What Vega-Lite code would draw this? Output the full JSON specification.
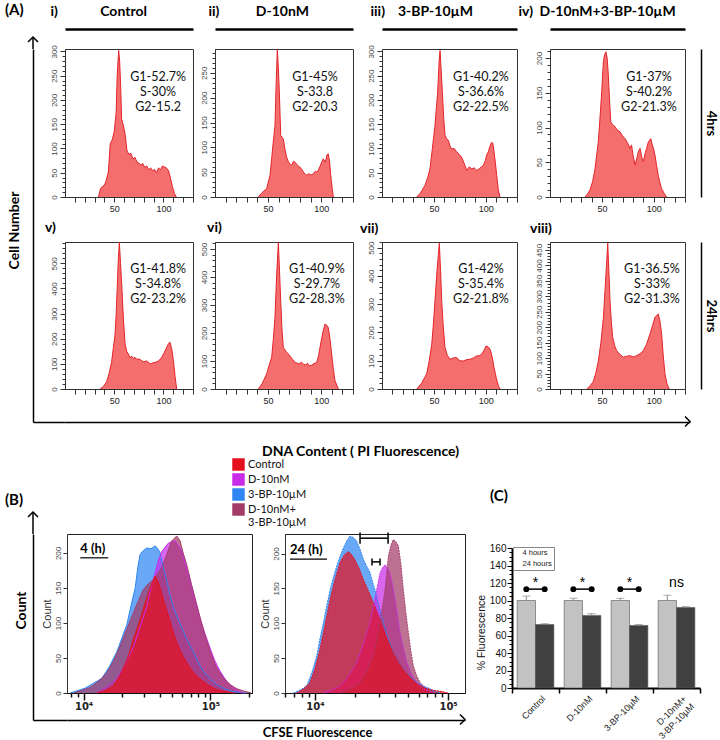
{
"$schema": "https://vega.github.io/schema/vega-lite/v6.json",
"background": "white",
"padding": {"left": 5, "top": 2, "right": 5, "bottom": 0},
"config": {"view": {"stroke": null}, "font": "Liberation Sans", "axis": {"grid": false, "labelOverlap": false, "labelFlush": false, "labelBound": false}, "title": {"color": "#000"}},
"datasets": {
"A": [
{"p":"i","x":34,"n":0},{"p":"i","x":36,"n":17},{"p":"i","x":38,"n":22},{"p":"i","x":40,"n":24},{"p":"i","x":42,"n":35},{"p":"i","x":44,"n":51},{"p":"i","x":46,"n":110},{"p":"i","x":48,"n":118},{"p":"i","x":50,"n":135},{"p":"i","x":52,"n":175},{"p":"i","x":53,"n":250},{"p":"i","x":54.5,"n":302},{"p":"i","x":55.5,"n":280},{"p":"i","x":56.5,"n":230},{"p":"i","x":57.5,"n":160},{"p":"i","x":59,"n":150},{"p":"i","x":61,"n":130},{"p":"i","x":63,"n":95},{"p":"i","x":65,"n":88},{"p":"i","x":67,"n":90},{"p":"i","x":69,"n":78},{"p":"i","x":71,"n":82},{"p":"i","x":73,"n":72},{"p":"i","x":75,"n":70},{"p":"i","x":77,"n":66},{"p":"i","x":79,"n":69},{"p":"i","x":81,"n":61},{"p":"i","x":83,"n":64},{"p":"i","x":85,"n":56},{"p":"i","x":87,"n":60},{"p":"i","x":89,"n":54},{"p":"i","x":91,"n":57},{"p":"i","x":93,"n":50},{"p":"i","x":95,"n":60},{"p":"i","x":97,"n":56},{"p":"i","x":99,"n":64},{"p":"i","x":101,"n":62},{"p":"i","x":103,"n":60},{"p":"i","x":105,"n":55},{"p":"i","x":107,"n":40},{"p":"i","x":109,"n":22},{"p":"i","x":111,"n":8},{"p":"i","x":113,"n":0},
{"p":"ii","x":40.8,"n":0},{"p":"ii","x":44,"n":8},{"p":"ii","x":48.7,"n":17},{"p":"ii","x":51.8,"n":44},{"p":"ii","x":53.5,"n":80},{"p":"ii","x":54.9,"n":111},{"p":"ii","x":56.5,"n":144},{"p":"ii","x":57.5,"n":220},{"p":"ii","x":58.7,"n":297},{"p":"ii","x":59.7,"n":260},{"p":"ii","x":60.6,"n":212},{"p":"ii","x":61.9,"n":124},{"p":"ii","x":64.3,"n":117},{"p":"ii","x":66,"n":95},{"p":"ii","x":67.5,"n":80},{"p":"ii","x":69,"n":72},{"p":"ii","x":70.5,"n":66},{"p":"ii","x":72.2,"n":64},{"p":"ii","x":74,"n":72},{"p":"ii","x":75.4,"n":70},{"p":"ii","x":77,"n":66},{"p":"ii","x":78.5,"n":62},{"p":"ii","x":80.1,"n":60},{"p":"ii","x":82,"n":55},{"p":"ii","x":84,"n":48},{"p":"ii","x":86.4,"n":44},{"p":"ii","x":88.5,"n":47},{"p":"ii","x":90.5,"n":44},{"p":"ii","x":92.6,"n":47},{"p":"ii","x":94.5,"n":52},{"p":"ii","x":96,"n":50},{"p":"ii","x":97.3,"n":54},{"p":"ii","x":99,"n":62},{"p":"ii","x":100.5,"n":70},{"p":"ii","x":102,"n":77},{"p":"ii","x":104,"n":70},{"p":"ii","x":105.5,"n":85},{"p":"ii","x":106.7,"n":87},{"p":"ii","x":108,"n":70},{"p":"ii","x":109,"n":44},{"p":"ii","x":110.5,"n":15},{"p":"ii","x":111.5,"n":0},
{"p":"iii","x":33.4,"n":0},{"p":"iii","x":37,"n":8},{"p":"iii","x":41.4,"n":24},{"p":"iii","x":44,"n":40},{"p":"iii","x":46.2,"n":58},{"p":"iii","x":48.5,"n":100},{"p":"iii","x":51,"n":147},{"p":"iii","x":53.6,"n":216},{"p":"iii","x":55,"n":280},{"p":"iii","x":55.9,"n":302},{"p":"iii","x":57,"n":260},{"p":"iii","x":58.1,"n":216},{"p":"iii","x":59.5,"n":160},{"p":"iii","x":60.7,"n":127},{"p":"iii","x":62.3,"n":120},{"p":"iii","x":63.9,"n":117},{"p":"iii","x":65.5,"n":105},{"p":"iii","x":67.1,"n":99},{"p":"iii","x":69.5,"n":100},{"p":"iii","x":71.9,"n":93},{"p":"iii","x":74.3,"n":88},{"p":"iii","x":76.7,"n":82},{"p":"iii","x":79,"n":70},{"p":"iii","x":81.6,"n":55},{"p":"iii","x":84,"n":62},{"p":"iii","x":86.4,"n":58},{"p":"iii","x":88.8,"n":60},{"p":"iii","x":91.2,"n":55},{"p":"iii","x":93.6,"n":58},{"p":"iii","x":95.6,"n":62},{"p":"iii","x":97.6,"n":65},{"p":"iii","x":99.5,"n":75},{"p":"iii","x":101,"n":88},{"p":"iii","x":102.4,"n":93},{"p":"iii","x":104,"n":105},{"p":"iii","x":105.6,"n":113},{"p":"iii","x":106.8,"n":110},{"p":"iii","x":107.9,"n":93},{"p":"iii","x":109.2,"n":70},{"p":"iii","x":110.5,"n":44},{"p":"iii","x":112,"n":15},{"p":"iii","x":113.6,"n":0},
{"p":"iv","x":33.7,"n":0},{"p":"iv","x":36,"n":4},{"p":"iv","x":38.5,"n":10},{"p":"iv","x":41,"n":22},{"p":"iv","x":43.3,"n":40},{"p":"iv","x":46.5,"n":79},{"p":"iv","x":48.2,"n":115},{"p":"iv","x":49.8,"n":151},{"p":"iv","x":51.4,"n":195},{"p":"iv","x":52.6,"n":205},{"p":"iv","x":53.9,"n":209},{"p":"iv","x":55,"n":200},{"p":"iv","x":56.2,"n":175},{"p":"iv","x":57.3,"n":140},{"p":"iv","x":58.5,"n":108},{"p":"iv","x":60.5,"n":104},{"p":"iv","x":62.6,"n":101},{"p":"iv","x":65,"n":96},{"p":"iv","x":67.4,"n":94},{"p":"iv","x":69.8,"n":88},{"p":"iv","x":72.2,"n":84},{"p":"iv","x":74.6,"n":78},{"p":"iv","x":77,"n":70},{"p":"iv","x":78.5,"n":75},{"p":"iv","x":80,"n":60},{"p":"iv","x":81.9,"n":46},{"p":"iv","x":83.5,"n":55},{"p":"iv","x":85,"n":65},{"p":"iv","x":86.7,"n":70},{"p":"iv","x":88.3,"n":58},{"p":"iv","x":89.9,"n":51},{"p":"iv","x":91.5,"n":62},{"p":"iv","x":93,"n":70},{"p":"iv","x":94.7,"n":79},{"p":"iv","x":96,"n":82},{"p":"iv","x":97,"n":84},{"p":"iv","x":98.5,"n":75},{"p":"iv","x":100,"n":68},{"p":"iv","x":101.1,"n":60},{"p":"iv","x":102.7,"n":45},{"p":"iv","x":104.3,"n":31},{"p":"iv","x":106,"n":20},{"p":"iv","x":107.5,"n":12},{"p":"iv","x":110,"n":5},{"p":"iv","x":112.3,"n":0},
{"p":"v","x":35.6,"n":0},{"p":"v","x":39,"n":10},{"p":"v","x":42.3,"n":29},{"p":"v","x":45,"n":65},{"p":"v","x":47.4,"n":109},{"p":"v","x":49,"n":160},{"p":"v","x":50.8,"n":215},{"p":"v","x":52,"n":300},{"p":"v","x":53.2,"n":418},{"p":"v","x":54.2,"n":520},{"p":"v","x":55.2,"n":584},{"p":"v","x":56.4,"n":500},{"p":"v","x":57.6,"n":418},{"p":"v","x":59.3,"n":280},{"p":"v","x":61,"n":179},{"p":"v","x":62.7,"n":150},{"p":"v","x":64.4,"n":139},{"p":"v","x":66,"n":125},{"p":"v","x":67.8,"n":130},{"p":"v","x":69.5,"n":122},{"p":"v","x":71.1,"n":126},{"p":"v","x":73,"n":118},{"p":"v","x":75,"n":120},{"p":"v","x":77.9,"n":113},{"p":"v","x":80,"n":108},{"p":"v","x":82.5,"n":112},{"p":"v","x":84.7,"n":106},{"p":"v","x":87,"n":100},{"p":"v","x":89,"n":104},{"p":"v","x":91.4,"n":106},{"p":"v","x":93.5,"n":108},{"p":"v","x":96,"n":115},{"p":"v","x":98.2,"n":126},{"p":"v","x":100.8,"n":145},{"p":"v","x":103.3,"n":166},{"p":"v","x":105,"n":180},{"p":"v","x":106.7,"n":186},{"p":"v","x":108.4,"n":160},{"p":"v","x":110.1,"n":113},{"p":"v","x":111.8,"n":50},{"p":"v","x":113.4,"n":0},
{"p":"vi","x":40.8,"n":0},{"p":"vi","x":44.5,"n":20},{"p":"vi","x":48.7,"n":54},{"p":"vi","x":51,"n":85},{"p":"vi","x":53.4,"n":113},{"p":"vi","x":55,"n":180},{"p":"vi","x":56.5,"n":256},{"p":"vi","x":58,"n":400},{"p":"vi","x":59.7,"n":524},{"p":"vi","x":60.8,"n":420},{"p":"vi","x":61.9,"n":315},{"p":"vi","x":63,"n":220},{"p":"vi","x":64.3,"n":149},{"p":"vi","x":66.7,"n":135},{"p":"vi","x":69.1,"n":125},{"p":"vi","x":71.2,"n":115},{"p":"vi","x":73.3,"n":105},{"p":"vi","x":75.4,"n":95},{"p":"vi","x":77.5,"n":92},{"p":"vi","x":79.4,"n":90},{"p":"vi","x":81.3,"n":96},{"p":"vi","x":83.2,"n":89},{"p":"vi","x":85.2,"n":86},{"p":"vi","x":87.1,"n":92},{"p":"vi","x":89,"n":83},{"p":"vi","x":91,"n":85},{"p":"vi","x":93,"n":90},{"p":"vi","x":95.8,"n":95},{"p":"vi","x":97.6,"n":120},{"p":"vi","x":99.5,"n":161},{"p":"vi","x":101.5,"n":200},{"p":"vi","x":103.6,"n":232},{"p":"vi","x":105.2,"n":228},{"p":"vi","x":106.7,"n":220},{"p":"vi","x":108.3,"n":180},{"p":"vi","x":109.9,"n":125},{"p":"vi","x":111.5,"n":70},{"p":"vi","x":113,"n":30},{"p":"vi","x":116.2,"n":0},
{"p":"vii","x":33.4,"n":0},{"p":"vii","x":38,"n":20},{"p":"vii","x":43,"n":53},{"p":"vii","x":45.5,"n":100},{"p":"vii","x":47.9,"n":158},{"p":"vii","x":49.5,"n":230},{"p":"vii","x":51,"n":311},{"p":"vii","x":53,"n":420},{"p":"vii","x":55.2,"n":516},{"p":"vii","x":56.4,"n":420},{"p":"vii","x":57.5,"n":311},{"p":"vii","x":59,"n":220},{"p":"vii","x":60.7,"n":146},{"p":"vii","x":63,"n":118},{"p":"vii","x":65.5,"n":105},{"p":"vii","x":68.7,"n":110},{"p":"vii","x":71.9,"n":111},{"p":"vii","x":75,"n":100},{"p":"vii","x":78.3,"n":99},{"p":"vii","x":81.5,"n":104},{"p":"vii","x":84.7,"n":105},{"p":"vii","x":88,"n":110},{"p":"vii","x":91.2,"n":117},{"p":"vii","x":93.6,"n":118},{"p":"vii","x":96,"n":123},{"p":"vii","x":98,"n":135},{"p":"vii","x":100.2,"n":152},{"p":"vii","x":102,"n":150},{"p":"vii","x":104,"n":141},{"p":"vii","x":106,"n":115},{"p":"vii","x":107.9,"n":76},{"p":"vii","x":110,"n":40},{"p":"vii","x":112,"n":12},{"p":"vii","x":113.6,"n":0},
{"p":"viii","x":35.3,"n":0},{"p":"viii","x":38.5,"n":10},{"p":"viii","x":41.7,"n":24},{"p":"viii","x":44,"n":50},{"p":"viii","x":46.5,"n":89},{"p":"viii","x":49,"n":150},{"p":"viii","x":51.4,"n":229},{"p":"viii","x":53.5,"n":350},{"p":"viii","x":55.6,"n":472},{"p":"viii","x":56.7,"n":380},{"p":"viii","x":57.8,"n":286},{"p":"viii","x":59,"n":220},{"p":"viii","x":60.4,"n":167},{"p":"viii","x":62.3,"n":140},{"p":"viii","x":64.2,"n":124},{"p":"viii","x":67.4,"n":112},{"p":"viii","x":70.6,"n":103},{"p":"viii","x":73.8,"n":106},{"p":"viii","x":77,"n":108},{"p":"viii","x":80.2,"n":104},{"p":"viii","x":83.4,"n":108},{"p":"viii","x":86.6,"n":114},{"p":"viii","x":89.9,"n":124},{"p":"viii","x":93,"n":145},{"p":"viii","x":96.3,"n":178},{"p":"viii","x":98.7,"n":205},{"p":"viii","x":101.1,"n":232},{"p":"viii","x":102.7,"n":238},{"p":"viii","x":104.3,"n":243},{"p":"viii","x":105.9,"n":220},{"p":"viii","x":107.5,"n":178},{"p":"viii","x":109,"n":110},{"p":"viii","x":110.7,"n":49},{"p":"viii","x":112.8,"n":15},{"p":"viii","x":114.9,"n":0}
],
"B": [
{"t":"4h","s":"3-BP-10µM","x":7850,"n":0},{"t":"4h","s":"3-BP-10µM","x":10300,"n":7},{"t":"4h","s":"3-BP-10µM","x":12000,"n":14},{"t":"4h","s":"3-BP-10µM","x":13960,"n":21},{"t":"4h","s":"3-BP-10µM","x":16000,"n":38},{"t":"4h","s":"3-BP-10µM","x":18300,"n":59},{"t":"4h","s":"3-BP-10µM","x":20000,"n":78},{"t":"4h","s":"3-BP-10µM","x":21970,"n":98},{"t":"4h","s":"3-BP-10µM","x":23700,"n":125},{"t":"4h","s":"3-BP-10µM","x":25540,"n":150},{"t":"4h","s":"3-BP-10µM","x":26800,"n":180},{"t":"4h","s":"3-BP-10µM","x":27940,"n":198},{"t":"4h","s":"3-BP-10µM","x":29500,"n":203},{"t":"4h","s":"3-BP-10µM","x":31530,"n":207},{"t":"4h","s":"3-BP-10µM","x":34000,"n":206},{"t":"4h","s":"3-BP-10µM","x":36700,"n":210},{"t":"4h","s":"3-BP-10µM","x":38500,"n":206},{"t":"4h","s":"3-BP-10µM","x":40180,"n":200},{"t":"4h","s":"3-BP-10µM","x":42500,"n":180},{"t":"4h","s":"3-BP-10µM","x":45350,"n":160},{"t":"4h","s":"3-BP-10µM","x":48000,"n":140},{"t":"4h","s":"3-BP-10µM","x":51200,"n":122},{"t":"4h","s":"3-BP-10µM","x":56000,"n":104},{"t":"4h","s":"3-BP-10µM","x":61300,"n":88},{"t":"4h","s":"3-BP-10µM","x":67000,"n":72},{"t":"4h","s":"3-BP-10µM","x":73500,"n":59},{"t":"4h","s":"3-BP-10µM","x":80000,"n":44},{"t":"4h","s":"3-BP-10µM","x":88100,"n":31},{"t":"4h","s":"3-BP-10µM","x":100000,"n":20},{"t":"4h","s":"3-BP-10µM","x":112000,"n":12},{"t":"4h","s":"3-BP-10µM","x":130000,"n":6},{"t":"4h","s":"3-BP-10µM","x":151800,"n":2},{"t":"4h","s":"3-BP-10µM","x":190000,"n":0},
{"t":"4h","s":"D-10nM","x":12750,"n":0},{"t":"4h","s":"D-10nM","x":15000,"n":8},{"t":"4h","s":"D-10nM","x":18300,"n":20},{"t":"4h","s":"D-10nM","x":21200,"n":40},{"t":"4h","s":"D-10nM","x":24800,"n":67},{"t":"4h","s":"D-10nM","x":28000,"n":95},{"t":"4h","s":"D-10nM","x":31530,"n":124},{"t":"4h","s":"D-10nM","x":34000,"n":150},{"t":"4h","s":"D-10nM","x":36700,"n":172},{"t":"4h","s":"D-10nM","x":39000,"n":190},{"t":"4h","s":"D-10nM","x":41400,"n":202},{"t":"4h","s":"D-10nM","x":43800,"n":208},{"t":"4h","s":"D-10nM","x":46700,"n":214},{"t":"4h","s":"D-10nM","x":49600,"n":216},{"t":"4h","s":"D-10nM","x":52700,"n":217},{"t":"4h","s":"D-10nM","x":56000,"n":210},{"t":"4h","s":"D-10nM","x":59600,"n":202},{"t":"4h","s":"D-10nM","x":64000,"n":182},{"t":"4h","s":"D-10nM","x":69200,"n":160},{"t":"4h","s":"D-10nM","x":75500,"n":133},{"t":"4h","s":"D-10nM","x":83000,"n":107},{"t":"4h","s":"D-10nM","x":90500,"n":85},{"t":"4h","s":"D-10nM","x":99500,"n":64},{"t":"4h","s":"D-10nM","x":108500,"n":46},{"t":"4h","s":"D-10nM","x":119500,"n":31},{"t":"4h","s":"D-10nM","x":134000,"n":17},{"t":"4h","s":"D-10nM","x":151800,"n":7},{"t":"4h","s":"D-10nM","x":170000,"n":2},{"t":"4h","s":"D-10nM","x":182000,"n":0},
{"t":"4h","s":"D-10nM+3-BP-10µM","x":8340,"n":0},{"t":"4h","s":"D-10nM+3-BP-10µM","x":9800,"n":4},{"t":"4h","s":"D-10nM+3-BP-10µM","x":11300,"n":8},{"t":"4h","s":"D-10nM+3-BP-10µM","x":13200,"n":17},{"t":"4h","s":"D-10nM+3-BP-10µM","x":15300,"n":29},{"t":"4h","s":"D-10nM+3-BP-10µM","x":17300,"n":46},{"t":"4h","s":"D-10nM+3-BP-10µM","x":19450,"n":67},{"t":"4h","s":"D-10nM+3-BP-10µM","x":22000,"n":92},{"t":"4h","s":"D-10nM+3-BP-10µM","x":24800,"n":115},{"t":"4h","s":"D-10nM+3-BP-10µM","x":27100,"n":132},{"t":"4h","s":"D-10nM+3-BP-10µM","x":29700,"n":148},{"t":"4h","s":"D-10nM+3-BP-10µM","x":32500,"n":156},{"t":"4h","s":"D-10nM+3-BP-10µM","x":35600,"n":162},{"t":"4h","s":"D-10nM+3-BP-10µM","x":38300,"n":170},{"t":"4h","s":"D-10nM+3-BP-10µM","x":41400,"n":179},{"t":"4h","s":"D-10nM+3-BP-10µM","x":43300,"n":188},{"t":"4h","s":"D-10nM+3-BP-10µM","x":45350,"n":198},{"t":"4h","s":"D-10nM+3-BP-10µM","x":47500,"n":208},{"t":"4h","s":"D-10nM+3-BP-10µM","x":49650,"n":217},{"t":"4h","s":"D-10nM+3-BP-10µM","x":52000,"n":221},{"t":"4h","s":"D-10nM+3-BP-10µM","x":54300,"n":224},{"t":"4h","s":"D-10nM+3-BP-10µM","x":55900,"n":221},{"t":"4h","s":"D-10nM+3-BP-10µM","x":57700,"n":217},{"t":"4h","s":"D-10nM+3-BP-10µM","x":61000,"n":200},{"t":"4h","s":"D-10nM+3-BP-10µM","x":65100,"n":183},{"t":"4h","s":"D-10nM+3-BP-10µM","x":71000,"n":155},{"t":"4h","s":"D-10nM+3-BP-10µM","x":78200,"n":126},{"t":"4h","s":"D-10nM+3-BP-10µM","x":85000,"n":100},{"t":"4h","s":"D-10nM+3-BP-10µM","x":93700,"n":74},{"t":"4h","s":"D-10nM+3-BP-10µM","x":102000,"n":54},{"t":"4h","s":"D-10nM+3-BP-10µM","x":112000,"n":36},{"t":"4h","s":"D-10nM+3-BP-10µM","x":126000,"n":22},{"t":"4h","s":"D-10nM+3-BP-10µM","x":143000,"n":12},{"t":"4h","s":"D-10nM+3-BP-10µM","x":162000,"n":6},{"t":"4h","s":"D-10nM+3-BP-10µM","x":182000,"n":3},{"t":"4h","s":"D-10nM+3-BP-10µM","x":210000,"n":0},
{"t":"4h","s":"Control","x":12750,"n":0},{"t":"4h","s":"Control","x":15000,"n":4},{"t":"4h","s":"Control","x":17200,"n":10},{"t":"4h","s":"Control","x":19800,"n":28},{"t":"4h","s":"Control","x":22600,"n":53},{"t":"4h","s":"Control","x":25000,"n":80},{"t":"4h","s":"Control","x":27940,"n":105},{"t":"4h","s":"Control","x":30500,"n":128},{"t":"4h","s":"Control","x":33500,"n":150},{"t":"4h","s":"Control","x":36700,"n":167},{"t":"4h","s":"Control","x":38400,"n":160},{"t":"4h","s":"Control","x":40180,"n":150},{"t":"4h","s":"Control","x":43200,"n":130},{"t":"4h","s":"Control","x":46700,"n":110},{"t":"4h","s":"Control","x":50300,"n":90},{"t":"4h","s":"Control","x":54300,"n":72},{"t":"4h","s":"Control","x":59500,"n":56},{"t":"4h","s":"Control","x":65100,"n":43},{"t":"4h","s":"Control","x":73000,"n":30},{"t":"4h","s":"Control","x":83000,"n":20},{"t":"4h","s":"Control","x":96000,"n":11},{"t":"4h","s":"Control","x":112000,"n":5},{"t":"4h","s":"Control","x":130000,"n":2},{"t":"4h","s":"Control","x":151800,"n":0},
{"t":"24h","s":"3-BP-10µM","x":6870,"n":0},{"t":"24h","s":"3-BP-10µM","x":7700,"n":4},{"t":"24h","s":"3-BP-10µM","x":8660,"n":10},{"t":"24h","s":"3-BP-10µM","x":9500,"n":30},{"t":"24h","s":"3-BP-10µM","x":10300,"n":53},{"t":"24h","s":"3-BP-10µM","x":10900,"n":78},{"t":"24h","s":"3-BP-10µM","x":11570,"n":101},{"t":"24h","s":"3-BP-10µM","x":12250,"n":125},{"t":"24h","s":"3-BP-10µM","x":12980,"n":148},{"t":"24h","s":"3-BP-10µM","x":13750,"n":166},{"t":"24h","s":"3-BP-10µM","x":14560,"n":182},{"t":"24h","s":"3-BP-10µM","x":15430,"n":196},{"t":"24h","s":"3-BP-10µM","x":16330,"n":208},{"t":"24h","s":"3-BP-10µM","x":17300,"n":218},{"t":"24h","s":"3-BP-10µM","x":18320,"n":225},{"t":"24h","s":"3-BP-10µM","x":19400,"n":223},{"t":"24h","s":"3-BP-10µM","x":20550,"n":218},{"t":"24h","s":"3-BP-10µM","x":21800,"n":206},{"t":"24h","s":"3-BP-10µM","x":23060,"n":192},{"t":"24h","s":"3-BP-10µM","x":24400,"n":182},{"t":"24h","s":"3-BP-10µM","x":25900,"n":173},{"t":"24h","s":"3-BP-10µM","x":27000,"n":160},{"t":"24h","s":"3-BP-10µM","x":28250,"n":148},{"t":"24h","s":"3-BP-10µM","x":30300,"n":125},{"t":"24h","s":"3-BP-10µM","x":32650,"n":101},{"t":"24h","s":"3-BP-10µM","x":35500,"n":78},{"t":"24h","s":"3-BP-10µM","x":38800,"n":58},{"t":"24h","s":"3-BP-10µM","x":42300,"n":45},{"t":"24h","s":"3-BP-10µM","x":46100,"n":34},{"t":"24h","s":"3-BP-10µM","x":52000,"n":24},{"t":"24h","s":"3-BP-10µM","x":58200,"n":15},{"t":"24h","s":"3-BP-10µM","x":65000,"n":10},{"t":"24h","s":"3-BP-10µM","x":73300,"n":6},{"t":"24h","s":"3-BP-10µM","x":80000,"n":2},{"t":"24h","s":"3-BP-10µM","x":87000,"n":0},
{"t":"24h","s":"D-10nM","x":11570,"n":0},{"t":"24h","s":"D-10nM","x":13300,"n":4},{"t":"24h","s":"D-10nM","x":15420,"n":10},{"t":"24h","s":"D-10nM","x":17800,"n":24},{"t":"24h","s":"D-10nM","x":20550,"n":43},{"t":"24h","s":"D-10nM","x":23000,"n":70},{"t":"24h","s":"D-10nM","x":25900,"n":101},{"t":"24h","s":"D-10nM","x":27500,"n":125},{"t":"24h","s":"D-10nM","x":29100,"n":148},{"t":"24h","s":"D-10nM","x":30800,"n":172},{"t":"24h","s":"D-10nM","x":32200,"n":180},{"t":"24h","s":"D-10nM","x":33600,"n":184},{"t":"24h","s":"D-10nM","x":35000,"n":180},{"t":"24h","s":"D-10nM","x":36600,"n":172},{"t":"24h","s":"D-10nM","x":38200,"n":155},{"t":"24h","s":"D-10nM","x":40000,"n":134},{"t":"24h","s":"D-10nM","x":41800,"n":110},{"t":"24h","s":"D-10nM","x":43600,"n":86},{"t":"24h","s":"D-10nM","x":46200,"n":64},{"t":"24h","s":"D-10nM","x":48900,"n":44},{"t":"24h","s":"D-10nM","x":53000,"n":27},{"t":"24h","s":"D-10nM","x":58200,"n":15},{"t":"24h","s":"D-10nM","x":65000,"n":6},{"t":"24h","s":"D-10nM","x":73300,"n":2},{"t":"24h","s":"D-10nM","x":80000,"n":0},
{"t":"24h","s":"D-10nM+3-BP-10µM","x":15420,"n":0},{"t":"24h","s":"D-10nM+3-BP-10µM","x":18500,"n":6},{"t":"24h","s":"D-10nM+3-BP-10µM","x":21800,"n":15},{"t":"24h","s":"D-10nM+3-BP-10µM","x":24500,"n":32},{"t":"24h","s":"D-10nM+3-BP-10µM","x":27400,"n":53},{"t":"24h","s":"D-10nM+3-BP-10µM","x":29100,"n":75},{"t":"24h","s":"D-10nM+3-BP-10µM","x":30800,"n":101},{"t":"24h","s":"D-10nM+3-BP-10µM","x":32200,"n":125},{"t":"24h","s":"D-10nM+3-BP-10µM","x":33600,"n":148},{"t":"24h","s":"D-10nM+3-BP-10µM","x":34600,"n":172},{"t":"24h","s":"D-10nM+3-BP-10µM","x":35600,"n":196},{"t":"24h","s":"D-10nM+3-BP-10µM","x":37200,"n":212},{"t":"24h","s":"D-10nM+3-BP-10µM","x":38800,"n":220},{"t":"24h","s":"D-10nM+3-BP-10µM","x":40500,"n":217},{"t":"24h","s":"D-10nM+3-BP-10µM","x":42300,"n":211},{"t":"24h","s":"D-10nM+3-BP-10µM","x":44200,"n":185},{"t":"24h","s":"D-10nM+3-BP-10µM","x":46100,"n":148},{"t":"24h","s":"D-10nM+3-BP-10µM","x":48200,"n":115},{"t":"24h","s":"D-10nM+3-BP-10µM","x":50300,"n":86},{"t":"24h","s":"D-10nM+3-BP-10µM","x":52500,"n":60},{"t":"24h","s":"D-10nM+3-BP-10µM","x":54800,"n":39},{"t":"24h","s":"D-10nM+3-BP-10µM","x":58000,"n":25},{"t":"24h","s":"D-10nM+3-BP-10µM","x":61500,"n":15},{"t":"24h","s":"D-10nM+3-BP-10µM","x":67000,"n":8},{"t":"24h","s":"D-10nM+3-BP-10µM","x":73300,"n":3},{"t":"24h","s":"D-10nM+3-BP-10µM","x":80000,"n":0},
{"t":"24h","s":"Control","x":7280,"n":0},{"t":"24h","s":"Control","x":8200,"n":6},{"t":"24h","s":"Control","x":9170,"n":15},{"t":"24h","s":"Control","x":10000,"n":35},{"t":"24h","s":"Control","x":10900,"n":63},{"t":"24h","s":"Control","x":11900,"n":98},{"t":"24h","s":"Control","x":12980,"n":134},{"t":"24h","s":"Control","x":14100,"n":162},{"t":"24h","s":"Control","x":15420,"n":187},{"t":"24h","s":"Control","x":16600,"n":198},{"t":"24h","s":"Control","x":17800,"n":203},{"t":"24h","s":"Control","x":18900,"n":198},{"t":"24h","s":"Control","x":19980,"n":191},{"t":"24h","s":"Control","x":21500,"n":178},{"t":"24h","s":"Control","x":23060,"n":163},{"t":"24h","s":"Control","x":25100,"n":147},{"t":"24h","s":"Control","x":27400,"n":130},{"t":"24h","s":"Control","x":29900,"n":111},{"t":"24h","s":"Control","x":32650,"n":91},{"t":"24h","s":"Control","x":35600,"n":73},{"t":"24h","s":"Control","x":38800,"n":58},{"t":"24h","s":"Control","x":42300,"n":45},{"t":"24h","s":"Control","x":46100,"n":34},{"t":"24h","s":"Control","x":52000,"n":22},{"t":"24h","s":"Control","x":58200,"n":13},{"t":"24h","s":"Control","x":66000,"n":7},{"t":"24h","s":"Control","x":77500,"n":4},{"t":"24h","s":"Control","x":90000,"n":2},{"t":"24h","s":"Control","x":100000,"n":0}
],
"C": [
{"g":"Control","t":"4 hours","v":100,"hi":105},{"g":"Control","t":"24 hours","v":72.5,"hi":73.5},
{"g":"D-10nM","t":"4 hours","v":100,"hi":102.5},{"g":"D-10nM","t":"24 hours","v":83,"hi":85},
{"g":"3-BP-10µM","t":"4 hours","v":100,"hi":102.5},{"g":"3-BP-10µM","t":"24 hours","v":71.5,"hi":72.5},
{"g":"D-10nM+3-BP-10µM","t":"4 hours","v":100,"hi":106},{"g":"D-10nM+3-BP-10µM","t":"24 hours","v":92,"hi":93}
]
},
"spacing": 485,
"bounds": "flush",
"vconcat": [
{
"hconcat": [
{
"width": 32, "height": 373,
"title": {"text": "(A)", "anchor": "start", "frame": "group", "dx": -28, "offset": 16, "font": "Lato", "fontSize": 15, "fontWeight": "bold"},
"data": {"values": [{}]},
"resolve": {"axis": {"x": "independent", "y": "independent"}},
"layer": [
{"mark": {"type": "rule", "color": "#000", "strokeWidth": 1.5},
"encoding": {
"x": {"datum": 0, "type": "quantitative", "scale": {"domain": [0, 32], "nice": false}, "axis": {"orient": "bottom", "domain": true, "domainColor": "#000", "domainWidth": 1.5, "ticks": false, "labels": false, "title": null}},
"y": {"datum": 373, "type": "quantitative", "scale": {"domain": [0, 373], "nice": false}, "axis": {"orient": "left", "domain": true, "domainColor": "#000", "domainWidth": 1.5, "ticks": false, "labels": false, "title": "Cell Number", "titleFont": "Lato", "titleFontSize": 14, "titleFontWeight": "bold", "titleColor": "#000", "titlePadding": 12, "titleY": 181}},
"y2": {"datum": 385}}},
{"mark": {"type": "point", "shape": "M-1,1L0,0L1,1", "size": 100, "filled": false, "color": "#000", "strokeWidth": 1.5, "opacity": 1},
"encoding": {"x": {"datum": 0, "type": "quantitative", "axis": null}, "y": {"datum": 385, "type": "quantitative", "axis": null}}}
]
},
{
"spacing": 372, "bounds": "flush",
"vconcat": [
{
"spacing": 193, "bounds": "flush",
"vconcat": [
{
"spacing": 22, "bounds": "flush",
"hconcat": [
{
"width": 128, "height": 148,
"view": {"stroke": "#333", "strokeWidth": 1},
"resolve": {"axis": {"x": "independent", "y": "independent"}},
"layer": [
{"data": {"name": "A"}, "transform": [{"filter": "datum.p == 'i'"}],
"mark": {"type": "area", "color": "#f56e6e", "opacity": 1, "line": {"color": "#e3242b", "strokeWidth": 1}},
"encoding": {
"x": {"field": "x", "type": "quantitative", "scale": {"domain": [0, 130], "nice": false}, "axis": {"values": [10,20,30,40,50,60,70,80,90,100,110,120,130], "labelExpr": "datum.value == 50 || datum.value == 100 ? datum.label : ''", "title": null, "tickSize": 5, "tickColor": "#333", "domainColor": "#333", "labelFont": "Liberation Sans", "labelFontSize": 9, "labelColor": "#222", "labelPadding": 2}},
"y": {"field": "n", "type": "quantitative", "scale": {"domain": [0, 305], "nice": false}, "axis": {"values": [0,10,20,30,40,50,60,70,80,90,100,110,120,130,140,150,160,170,180,190,200,210,220,230,240,250,260,270,280,290,300], "labelExpr": "datum.value % 50 == 0 ? datum.label : ''", "title": null, "tickSize": {"condition": {"test": "datum.value % 50 == 0", "value": 5}, "value": 3}, "tickColor": "#333", "domainColor": "#333", "labelAngle": -90, "labelAlign": "center", "labelBaseline": "bottom", "labelFont": "Liberation Sans", "labelFontSize": 8, "labelColor": "#444", "labelPadding": 2}}}},
{"data": {"values": [{}]},
"mark": {"type": "text", "font": "Lato", "fontSize": 12.5, "lineHeight": 15, "align": "center", "baseline": "middle", "color": "#111"},
"encoding": {
"x": {"datum": 94.5, "type": "quantitative", "axis": {"orient": "top", "offset": 20, "values": [59], "labelExpr": "'Control'", "ticks": false, "tickSize": 0, "domain": true, "domainColor": "#000", "domainWidth": 2.5, "labelFont": "Lato", "labelFontSize": 14, "labelFontWeight": "bold", "labelColor": "#000", "labelPadding": 11, "title": "i)", "titleFont": "Lato", "titleFontSize": 14, "titleFontWeight": "bold", "titleColor": "#000", "titleX": -15, "titleY": -11, "titleAlign": "left", "titleBaseline": "bottom"}},
"y": {"datum": 247, "type": "quantitative", "axis": null},
"text": {"value": ["G1-52.7%", "S-30%", "G2-15.2"]}}}
]
},
{
"spacing": 29, "bounds": "flush",
"hconcat": [
{
"width": 138, "height": 148,
"view": {"stroke": "#333", "strokeWidth": 1},
"resolve": {"axis": {"x": "independent", "y": "independent"}},
"layer": [
{"data": {"name": "A"}, "transform": [{"filter": "datum.p == 'ii'"}],
"mark": {"type": "area", "color": "#f56e6e", "opacity": 1, "line": {"color": "#e3242b", "strokeWidth": 1}},
"encoding": {
"x": {"field": "x", "type": "quantitative", "scale": {"domain": [0, 130], "nice": false}, "axis": {"values": [10,20,30,40,50,60,70,80,90,100,110,120,130], "labelExpr": "datum.value == 50 || datum.value == 100 ? datum.label : ''", "title": null, "tickSize": 5, "tickColor": "#333", "domainColor": "#333", "labelFont": "Liberation Sans", "labelFontSize": 9, "labelColor": "#222", "labelPadding": 2}},
"y": {"field": "n", "type": "quantitative", "scale": {"domain": [0, 298], "nice": false}, "axis": {"values": [0,10,20,30,40,50,60,70,80,90,100,110,120,130,140,150,160,170,180,190,200,210,220,230,240,250,260,270,280,290], "labelExpr": "datum.value % 50 == 0 ? datum.label : ''", "title": null, "tickSize": {"condition": {"test": "datum.value % 50 == 0", "value": 5}, "value": 3}, "tickColor": "#333", "domainColor": "#333", "labelAngle": -90, "labelAlign": "center", "labelBaseline": "bottom", "labelFont": "Liberation Sans", "labelFontSize": 8, "labelColor": "#444", "labelPadding": 2}}}},
{"data": {"values": [{}]},
"mark": {"type": "text", "font": "Lato", "fontSize": 12.5, "lineHeight": 15, "align": "center", "baseline": "middle", "color": "#111"},
"encoding": {
"x": {"datum": 94.2, "type": "quantitative", "axis": {"orient": "top", "offset": 20, "values": [63], "labelExpr": "'D-10nM'", "ticks": false, "tickSize": 0, "domain": true, "domainColor": "#000", "domainWidth": 2.5, "labelFont": "Lato", "labelFontSize": 14, "labelFontWeight": "bold", "labelColor": "#000", "labelPadding": 11, "title": "ii)", "titleFont": "Lato", "titleFontSize": 14, "titleFontWeight": "bold", "titleColor": "#000", "titleX": -7, "titleY": -11, "titleAlign": "left", "titleBaseline": "bottom"}},
"y": {"datum": 241, "type": "quantitative", "axis": null},
"text": {"value": ["G1-45%", "S-33.8", "G2-20.3"]}}}
]
},
{
"spacing": 33, "bounds": "flush",
"hconcat": [
{
"width": 135, "height": 148,
"view": {"stroke": "#333", "strokeWidth": 1},
"resolve": {"axis": {"x": "independent", "y": "independent"}},
"layer": [
{"data": {"name": "A"}, "transform": [{"filter": "datum.p == 'iii'"}],
"mark": {"type": "area", "color": "#f56e6e", "opacity": 1, "line": {"color": "#e3242b", "strokeWidth": 1}},
"encoding": {
"x": {"field": "x", "type": "quantitative", "scale": {"domain": [0, 130], "nice": false}, "axis": {"values": [10,20,30,40,50,60,70,80,90,100,110,120,130], "labelExpr": "datum.value == 50 || datum.value == 100 ? datum.label : ''", "title": null, "tickSize": 5, "tickColor": "#333", "domainColor": "#333", "labelFont": "Liberation Sans", "labelFontSize": 9, "labelColor": "#222", "labelPadding": 2}},
"y": {"field": "n", "type": "quantitative", "scale": {"domain": [0, 305], "nice": false}, "axis": {"values": [0,10,20,30,40,50,60,70,80,90,100,110,120,130,140,150,160,170,180,190,200,210,220,230,240,250,260,270,280,290,300], "labelExpr": "datum.value % 50 == 0 ? datum.label : ''", "title": null, "tickSize": {"condition": {"test": "datum.value % 50 == 0", "value": 5}, "value": 3}, "tickColor": "#333", "domainColor": "#333", "labelAngle": -90, "labelAlign": "center", "labelBaseline": "bottom", "labelFont": "Liberation Sans", "labelFontSize": 8, "labelColor": "#444", "labelPadding": 2}}}},
{"data": {"values": [{}]},
"mark": {"type": "text", "font": "Lato", "fontSize": 12.5, "lineHeight": 15, "align": "center", "baseline": "middle", "color": "#111"},
"encoding": {
"x": {"datum": 95.3, "type": "quantitative", "axis": {"orient": "top", "offset": 20, "values": [51], "labelExpr": "'3-BP-10µM'", "ticks": false, "tickSize": 0, "domain": true, "domainColor": "#000", "domainWidth": 2.5, "labelFont": "Lato", "labelFontSize": 14, "labelFontWeight": "bold", "labelColor": "#000", "labelPadding": 11, "title": "iii)", "titleFont": "Lato", "titleFontSize": 14, "titleFontWeight": "bold", "titleColor": "#000", "titleX": -12, "titleY": -11, "titleAlign": "left", "titleBaseline": "bottom"}},
"y": {"datum": 247, "type": "quantitative", "axis": null},
"text": {"value": ["G1-40.2%", "S-36.6%", "G2-22.5%"]}}}
]
},
{
"spacing": 15, "bounds": "flush",
"hconcat": [
{
"width": 135, "height": 148,
"view": {"stroke": "#333", "strokeWidth": 1},
"resolve": {"axis": {"x": "independent", "y": "independent"}},
"layer": [
{"data": {"name": "A"}, "transform": [{"filter": "datum.p == 'iv'"}],
"mark": {"type": "area", "color": "#f56e6e", "opacity": 1, "line": {"color": "#e3242b", "strokeWidth": 1}},
"encoding": {
"x": {"field": "x", "type": "quantitative", "scale": {"domain": [0, 130], "nice": false}, "axis": {"values": [10,20,30,40,50,60,70,80,90,100,110,120,130], "labelExpr": "datum.value == 50 || datum.value == 100 ? datum.label : ''", "title": null, "tickSize": 5, "tickColor": "#333", "domainColor": "#333", "labelFont": "Liberation Sans", "labelFontSize": 9, "labelColor": "#222", "labelPadding": 2}},
"y": {"field": "n", "type": "quantitative", "scale": {"domain": [0, 213], "nice": false}, "axis": {"values": [0,10,20,30,40,50,60,70,80,90,100,110,120,130,140,150,160,170,180,190,200,210], "labelExpr": "datum.value % 50 == 0 ? datum.label : ''", "title": null, "tickSize": {"condition": {"test": "datum.value % 50 == 0", "value": 5}, "value": 3}, "tickColor": "#333", "domainColor": "#333", "labelAngle": -90, "labelAlign": "center", "labelBaseline": "bottom", "labelFont": "Liberation Sans", "labelFontSize": 8, "labelColor": "#444", "labelPadding": 2}}}},
{"data": {"values": [{}]},
"mark": {"type": "text", "font": "Lato", "fontSize": 12.5, "lineHeight": 15, "align": "center", "baseline": "middle", "color": "#111"},
"encoding": {
"x": {"datum": 95.3, "type": "quantitative", "axis": {"orient": "top", "offset": 20, "values": [55], "labelExpr": "'D-10nM+3-BP-10µM'", "ticks": false, "tickSize": 0, "domain": true, "domainColor": "#000", "domainWidth": 2.5, "labelFont": "Lato", "labelFontSize": 14, "labelFontWeight": "bold", "labelColor": "#000", "labelPadding": 11, "title": "iv)", "titleFont": "Lato", "titleFontSize": 14, "titleFontWeight": "bold", "titleColor": "#000", "titleX": -32, "titleY": -11, "titleAlign": "left", "titleBaseline": "bottom"}},
"y": {"datum": 173, "type": "quantitative", "axis": null},
"text": {"value": ["G1-37%", "S-40.2%", "G2-21.3%"]}}}
]
},
{
"width": 1, "height": 148,
"data": {"values": [{}]},
"mark": {"type": "point", "opacity": 0},
"encoding": {"y": {"datum": 0, "type": "quantitative", "scale": {"domain": [0, 1], "nice": false}, "axis": {"orient": "right", "domain": true, "domainColor": "#000", "domainWidth": 1.5, "ticks": false, "labels": false, "title": "4hrs", "titleAngle": 90, "titleFont": "Lato", "titleFontSize": 13, "titleFontWeight": "bold", "titleColor": "#000", "titlePadding": 2}}}
}
]
}
]
}
]
}
]
},
{
"spacing": 22, "bounds": "flush",
"hconcat": [
{
"width": 128, "height": 147,
"view": {"stroke": "#333", "strokeWidth": 1},
"title": {"text": "v)", "anchor": "start", "frame": "group", "dx": -20, "offset": 5, "font": "Lato", "fontSize": 14, "fontWeight": "bold"},
"resolve": {"axis": {"x": "independent", "y": "independent"}},
"layer": [
{"data": {"name": "A"}, "transform": [{"filter": "datum.p == 'v'"}],
"mark": {"type": "area", "color": "#f56e6e", "opacity": 1, "line": {"color": "#e3242b", "strokeWidth": 1}},
"encoding": {
"x": {"field": "x", "type": "quantitative", "scale": {"domain": [0, 130], "nice": false}, "axis": {"values": [10,20,30,40,50,60,70,80,90,100,110,120,130], "labelExpr": "datum.value == 50 || datum.value == 100 ? datum.label : ''", "title": null, "tickSize": 5, "tickColor": "#333", "domainColor": "#333", "labelFont": "Liberation Sans", "labelFontSize": 9, "labelColor": "#222", "labelPadding": 2}},
"y": {"field": "n", "type": "quantitative", "scale": {"domain": [0, 585], "nice": false}, "axis": {"values": [0,20,40,60,80,100,120,140,160,180,200,220,240,260,280,300,320,340,360,380,400,420,440,460,480,500,520,540,560,580], "labelExpr": "datum.value % 100 == 0 ? datum.label : ''", "title": null, "tickSize": {"condition": {"test": "datum.value % 100 == 0", "value": 5}, "value": 3}, "tickColor": "#333", "domainColor": "#333", "labelAngle": -90, "labelAlign": "center", "labelBaseline": "bottom", "labelFont": "Liberation Sans", "labelFontSize": 8, "labelColor": "#444", "labelPadding": 2}}}},
{"data": {"values": [{}]},
"mark": {"type": "text", "font": "Lato", "fontSize": 12.5, "lineHeight": 15, "align": "center", "baseline": "middle", "color": "#111"},
"encoding": {
"x": {"datum": 94.5, "type": "quantitative", "axis": null},
"y": {"datum": 478, "type": "quantitative", "axis": null},
"text": {"value": ["G1-41.8%", "S-34.8%", "G2-23.2%"]}}}
]
},
{
"spacing": 29, "bounds": "flush",
"hconcat": [
{
"width": 138, "height": 147,
"view": {"stroke": "#333", "strokeWidth": 1},
"title": {"text": "vi)", "anchor": "start", "frame": "group", "dx": -8, "offset": 5, "font": "Lato", "fontSize": 14, "fontWeight": "bold"},
"resolve": {"axis": {"x": "independent", "y": "independent"}},
"layer": [
{"data": {"name": "A"}, "transform": [{"filter": "datum.p == 'vi'"}],
"mark": {"type": "area", "color": "#f56e6e", "opacity": 1, "line": {"color": "#e3242b", "strokeWidth": 1}},
"encoding": {
"x": {"field": "x", "type": "quantitative", "scale": {"domain": [0, 130], "nice": false}, "axis": {"values": [10,20,30,40,50,60,70,80,90,100,110,120,130], "labelExpr": "datum.value == 50 || datum.value == 100 ? datum.label : ''", "title": null, "tickSize": 5, "tickColor": "#333", "domainColor": "#333", "labelFont": "Liberation Sans", "labelFontSize": 9, "labelColor": "#222", "labelPadding": 2}},
"y": {"field": "n", "type": "quantitative", "scale": {"domain": [0, 525], "nice": false}, "axis": {"values": [0,20,40,60,80,100,120,140,160,180,200,220,240,260,280,300,320,340,360,380,400,420,440,460,480,500,520], "labelExpr": "datum.value % 100 == 0 ? datum.label : ''", "title": null, "tickSize": {"condition": {"test": "datum.value % 100 == 0", "value": 5}, "value": 3}, "tickColor": "#333", "domainColor": "#333", "labelAngle": -90, "labelAlign": "center", "labelBaseline": "bottom", "labelFont": "Liberation Sans", "labelFontSize": 8, "labelColor": "#444", "labelPadding": 2}}}},
{"data": {"values": [{}]},
"mark": {"type": "text", "font": "Lato", "fontSize": 12.5, "lineHeight": 15, "align": "center", "baseline": "middle", "color": "#111"},
"encoding": {
"x": {"datum": 96, "type": "quantitative", "axis": null},
"y": {"datum": 429, "type": "quantitative", "axis": null},
"text": {"value": ["G1-40.9%", "S-29.7%", "G2-28.3%"]}}}
]
},
{
"spacing": 33, "bounds": "flush",
"hconcat": [
{
"width": 135, "height": 147,
"view": {"stroke": "#333", "strokeWidth": 1},
"title": {"text": "vii)", "anchor": "start", "frame": "group", "dx": -22, "offset": 5, "font": "Lato", "fontSize": 14, "fontWeight": "bold"},
"resolve": {"axis": {"x": "independent", "y": "independent"}},
"layer": [
{"data": {"name": "A"}, "transform": [{"filter": "datum.p == 'vii'"}],
"mark": {"type": "area", "color": "#f56e6e", "opacity": 1, "line": {"color": "#e3242b", "strokeWidth": 1}},
"encoding": {
"x": {"field": "x", "type": "quantitative", "scale": {"domain": [0, 130], "nice": false}, "axis": {"values": [10,20,30,40,50,60,70,80,90,100,110,120,130], "labelExpr": "datum.value == 50 || datum.value == 100 ? datum.label : ''", "title": null, "tickSize": 5, "tickColor": "#333", "domainColor": "#333", "labelFont": "Liberation Sans", "labelFontSize": 9, "labelColor": "#222", "labelPadding": 2}},
"y": {"field": "n", "type": "quantitative", "scale": {"domain": [0, 520], "nice": false}, "axis": {"values": [0,20,40,60,80,100,120,140,160,180,200,220,240,260,280,300,320,340,360,380,400,420,440,460,480,500,520], "labelExpr": "datum.value % 100 == 0 ? datum.label : ''", "title": null, "tickSize": {"condition": {"test": "datum.value % 100 == 0", "value": 5}, "value": 3}, "tickColor": "#333", "domainColor": "#333", "labelAngle": -90, "labelAlign": "center", "labelBaseline": "bottom", "labelFont": "Liberation Sans", "labelFontSize": 8, "labelColor": "#444", "labelPadding": 2}}}},
{"data": {"values": [{}]},
"mark": {"type": "text", "font": "Lato", "fontSize": 12.5, "lineHeight": 15, "align": "center", "baseline": "middle", "color": "#111"},
"encoding": {
"x": {"datum": 95.3, "type": "quantitative", "axis": null},
"y": {"datum": 424, "type": "quantitative", "axis": null},
"text": {"value": ["G1-42%", "S-35.4%", "G2-21.8%"]}}}
]
},
{
"spacing": 15, "bounds": "flush",
"hconcat": [
{
"width": 135, "height": 147,
"view": {"stroke": "#333", "strokeWidth": 1},
"title": {"text": "viii)", "anchor": "start", "frame": "group", "dx": -20, "offset": 5, "font": "Lato", "fontSize": 14, "fontWeight": "bold"},
"resolve": {"axis": {"x": "independent", "y": "independent"}},
"layer": [
{"data": {"name": "A"}, "transform": [{"filter": "datum.p == 'viii'"}],
"mark": {"type": "area", "color": "#f56e6e", "opacity": 1, "line": {"color": "#e3242b", "strokeWidth": 1}},
"encoding": {
"x": {"field": "x", "type": "quantitative", "scale": {"domain": [0, 130], "nice": false}, "axis": {"values": [10,20,30,40,50,60,70,80,90,100,110,120,130], "labelExpr": "datum.value == 50 || datum.value == 100 ? datum.label : ''", "title": null, "tickSize": 5, "tickColor": "#333", "domainColor": "#333", "labelFont": "Liberation Sans", "labelFontSize": 9, "labelColor": "#222", "labelPadding": 2}},
"y": {"field": "n", "type": "quantitative", "scale": {"domain": [0, 476], "nice": false}, "axis": {"values": [0,10,20,30,40,50,60,70,80,90,100,110,120,130,140,150,160,170,180,190,200,210,220,230,240,250,260,270,280,290,300,310,320,330,340,350,360,370,380,390,400,410,420,430,440,450,460,470], "labelExpr": "datum.value % 50 == 0 ? datum.label : ''", "title": null, "tickSize": {"condition": {"test": "datum.value % 50 == 0", "value": 5}, "value": 3}, "tickColor": "#333", "domainColor": "#333", "labelAngle": -90, "labelAlign": "center", "labelBaseline": "bottom", "labelFont": "Liberation Sans", "labelFontSize": 8, "labelColor": "#444", "labelPadding": 2}}}},
{"data": {"values": [{}]},
"mark": {"type": "text", "font": "Lato", "fontSize": 12.5, "lineHeight": 15, "align": "center", "baseline": "middle", "color": "#111"},
"encoding": {
"x": {"datum": 98.2, "type": "quantitative", "axis": null},
"y": {"datum": 389, "type": "quantitative", "axis": null},
"text": {"value": ["G1-36.5%", "S-33%", "G2-31.3%"]}}}
]
},
{
"width": 1, "height": 147,
"data": {"values": [{}]},
"mark": {"type": "point", "opacity": 0},
"encoding": {"y": {"datum": 0, "type": "quantitative", "scale": {"domain": [0, 1], "nice": false}, "axis": {"orient": "right", "domain": true, "domainColor": "#000", "domainWidth": 1.5, "ticks": false, "labels": false, "title": "24hrs", "titleAngle": 90, "titleFont": "Lato", "titleFontSize": 13, "titleFontWeight": "bold", "titleColor": "#000", "titlePadding": 2}}}
}
]
}
]
}
]
}
]
}
]
},
{
"width": 625, "height": 1,
"data": {"values": [{}]},
"mark": {"type": "point", "shape": "M-1,-1L0,0L-1,1", "size": 100, "filled": false, "color": "#000", "strokeWidth": 1.5, "opacity": 1},
"encoding": {"x": {"datum": 625, "type": "quantitative", "scale": {"domain": [0, 625], "nice": false}, "axis": {"orient": "bottom", "domain": true, "domainColor": "#000", "domainWidth": 1.5, "ticks": false, "labels": false, "title": "DNA Content ( PI Fluorescence)", "titleFont": "Lato", "titleFontSize": 14, "titleFontWeight": "bold", "titleColor": "#000", "titleX": 295, "titleY": 29, "titleAlign": "center", "titleBaseline": "middle"}}}
}
]
}
],
"spacing": 0, "bounds": "flush"
},
{
"spacing": 0, "bounds": "flush",
"hconcat": [
{
"width": 34, "height": 186,
"title": {"text": "(B)", "anchor": "start", "frame": "group", "dx": -28, "offset": 1, "font": "Lato", "fontSize": 15, "fontWeight": "bold"},
"data": {"values": [{}]},
"resolve": {"axis": {"x": "independent", "y": "independent"}},
"layer": [
{"mark": {"type": "rule", "color": "#000", "strokeWidth": 1.5},
"encoding": {
"x": {"datum": 0, "type": "quantitative", "scale": {"domain": [0, 34], "nice": false}, "axis": {"orient": "bottom", "domain": true, "domainColor": "#000", "domainWidth": 1.5, "ticks": false, "labels": false, "title": null}},
"y": {"datum": 186, "type": "quantitative", "scale": {"domain": [0, 186], "nice": false}, "axis": {"orient": "left", "domain": true, "domainColor": "#000", "domainWidth": 1.5, "ticks": false, "labels": false, "title": "Count", "titleFont": "Lato", "titleFontSize": 14, "titleFontWeight": "bold", "titleColor": "#000", "titlePadding": 5, "titleY": 76}},
"y2": {"datum": 208}}},
{"mark": {"type": "point", "shape": "M-1,1L0,0L1,1", "size": 100, "filled": false, "color": "#000", "strokeWidth": 1.5, "opacity": 1},
"encoding": {"x": {"datum": 0, "type": "quantitative", "axis": null}, "y": {"datum": 208, "type": "quantitative", "axis": null}}}
]
},
{
"spacing": 445, "bounds": "flush",
"hconcat": [
{
"spacing": 185, "bounds": "flush",
"vconcat": [
{
"spacing": 33, "bounds": "flush",
"hconcat": [
{
"width": 185, "height": 159,
"view": {"stroke": "#222", "strokeWidth": 1},
"resolve": {"axis": {"x": "independent", "y": "independent"}},
"layer": [
{"data": {"name": "B"}, "transform": [{"filter": "datum.t == '4h'"}],
"mark": {"type": "area", "fillOpacity": 0.72, "line": {"strokeWidth": 1}},
"encoding": {
"x": {"field": "x", "type": "quantitative", "scale": {"type": "log", "domain": [7400, 213000], "nice": false}, "axis": {"values": [8000,9000,10000,20000,30000,40000,50000,60000,70000,80000,90000,100000,200000], "labelExpr": "datum.value == 10000 ? '10⁴' : (datum.value == 100000 ? '10⁵' : '')", "title": null, "tickSize": {"condition": {"test": "datum.value == 10000 || datum.value == 100000", "value": 7}, "value": 4}, "tickColor": "#111", "tickWidth": 1.5, "domainColor": "#111", "labelFont": "DejaVu Sans", "labelFontSize": 10, "labelFontWeight": "bold", "labelColor": "#222", "labelPadding": 1}},
"y": {"field": "n", "type": "quantitative", "stack": null, "scale": {"domain": [0, 227], "nice": false}, "axis": {"values": [0,50,100,150,200], "title": "Count", "titleFont": "Liberation Sans", "titleFontSize": 11, "titleFontWeight": "normal", "titleColor": "#333", "titlePadding": 2, "tickSize": 4, "tickColor": "#333", "domainColor": "#333", "labelAngle": -90, "labelAlign": "center", "labelBaseline": "bottom", "labelFont": "Liberation Sans", "labelFontSize": 8, "labelColor": "#444", "labelPadding": 1}},
"color": {"field": "s", "type": "nominal", "scale": {"domain": ["Control", "D-10nM", "3-BP-10µM", "D-10nM+3-BP-10µM"], "range": ["#e4101e", "#c92be8", "#2f86f2", "#a33c68"]}, "legend": {"orient": "none", "legendX": 199, "legendY": 409, "title": null, "symbolType": "square", "symbolSize": 140, "symbolStrokeColor": "#333", "symbolStrokeWidth": 0.6, "symbolOpacity": 1, "labelFont": "Lato", "labelFontSize": 11, "labelColor": "#111", "rowPadding": 0, "labelOffset": 3, "padding": 0, "labelExpr": "datum.label == 'D-10nM+3-BP-10µM' ? ['D-10nM+', '3-BP-10µM'] : datum.label"}}}},
{"data": {"values": [{}]},
"mark": {"type": "text", "text": "4 (h)", "font": "Lato", "fontSize": 13, "fontWeight": "bold", "align": "left", "baseline": "middle", "color": "#000"},
"encoding": {"x": {"datum": 9420, "type": "quantitative", "axis": null}, "y": {"datum": 205, "type": "quantitative", "axis": null}}},
{"data": {"values": [{}]},
"mark": {"type": "rule", "color": "#000", "strokeWidth": 1.2},
"encoding": {"x": {"datum": 9420, "type": "quantitative", "axis": null}, "x2": {"datum": 15640}, "y": {"datum": 193, "type": "quantitative", "axis": null}}}
]
},
{
"width": 180, "height": 159,
"view": {"stroke": "#222", "strokeWidth": 1},
"resolve": {"axis": {"x": "independent", "y": "independent"}},
"layer": [
{"data": {"name": "B"}, "transform": [{"filter": "datum.t == '24h'"}],
"mark": {"type": "area", "fillOpacity": 0.72, "line": {"strokeWidth": 1, "strokeDash": [2, 1]}},
"encoding": {
"x": {"field": "x", "type": "quantitative", "scale": {"type": "log", "domain": [5950, 134000], "nice": false}, "axis": {"values": [6000,7000,8000,9000,10000,20000,30000,40000,50000,60000,70000,80000,90000,100000], "labelExpr": "datum.value == 10000 ? '10⁴' : (datum.value == 100000 ? '10⁵' : '')", "title": null, "tickSize": {"condition": {"test": "datum.value == 10000 || datum.value == 100000", "value": 7}, "value": 4}, "tickColor": "#111", "tickWidth": 1.5, "domainColor": "#111", "labelFont": "DejaVu Sans", "labelFontSize": 10, "labelFontWeight": "bold", "labelColor": "#222", "labelPadding": 1}},
"y": {"field": "n", "type": "quantitative", "stack": null, "scale": {"domain": [0, 228], "nice": false}, "axis": {"values": [0,50,100,150,200], "title": "Count", "titleFont": "Liberation Sans", "titleFontSize": 11, "titleFontWeight": "normal", "titleColor": "#333", "titlePadding": 2, "tickSize": 4, "tickColor": "#333", "domainColor": "#333", "labelAngle": -90, "labelAlign": "center", "labelBaseline": "bottom", "labelFont": "Liberation Sans", "labelFontSize": 8, "labelColor": "#444", "labelPadding": 1}},
"color": {"field": "s", "type": "nominal", "legend": null}}},
{"data": {"values": [{}]},
"mark": {"type": "text", "text": "24 (h)", "font": "Lato", "fontSize": 13, "fontWeight": "bold", "align": "left", "baseline": "middle", "color": "#000"},
"encoding": {"x": {"datum": 6490, "type": "quantitative", "axis": null}, "y": {"datum": 205, "type": "quantitative", "axis": null}}},
{"data": {"values": [{}]},
"mark": {"type": "rule", "color": "#000", "strokeWidth": 1.2},
"encoding": {"x": {"datum": 6490, "type": "quantitative", "axis": null}, "x2": {"datum": 12310}, "y": {"datum": 192, "type": "quantitative", "axis": null}}},
{"data": {"values": [{}]},
"mark": {"type": "rule", "color": "#000", "strokeWidth": 1.5},
"encoding": {"x": {"datum": 21800, "type": "quantitative", "axis": null}, "x2": {"datum": 35400}, "y": {"datum": 222, "type": "quantitative", "axis": null}}},
{"data": {"values": [{}]},
"mark": {"type": "rule", "color": "#000", "strokeWidth": 1.5},
"encoding": {"x": {"datum": 21800, "type": "quantitative", "axis": null}, "y": {"datum": 214, "type": "quantitative", "axis": null}, "y2": {"datum": 230}}},
{"data": {"values": [{}]},
"mark": {"type": "rule", "color": "#000", "strokeWidth": 1.5},
"encoding": {"x": {"datum": 35400, "type": "quantitative", "axis": null}, "y": {"datum": 214, "type": "quantitative", "axis": null}, "y2": {"datum": 230}}},
{"data": {"values": [{}]},
"mark": {"type": "rule", "color": "#000", "strokeWidth": 1.5},
"encoding": {"x": {"datum": 26800, "type": "quantitative", "axis": null}, "x2": {"datum": 30800}, "y": {"datum": 188, "type": "quantitative", "axis": null}}},
{"data": {"values": [{}]},
"mark": {"type": "rule", "color": "#000", "strokeWidth": 1.5},
"encoding": {"x": {"datum": 26800, "type": "quantitative", "axis": null}, "y": {"datum": 183, "type": "quantitative", "axis": null}, "y2": {"datum": 193}}},
{"data": {"values": [{}]},
"mark": {"type": "rule", "color": "#000", "strokeWidth": 1.5},
"encoding": {"x": {"datum": 30800, "type": "quantitative", "axis": null}, "y": {"datum": 183, "type": "quantitative", "axis": null}, "y2": {"datum": 193}}}
]
}
]
},
{
"width": 398, "height": 1,
"data": {"values": [{}]},
"mark": {"type": "point", "shape": "M-1,-1L0,0L-1,1", "size": 100, "filled": false, "color": "#000", "strokeWidth": 1.5, "opacity": 1},
"encoding": {"x": {"datum": 398, "type": "quantitative", "scale": {"domain": [0, 398], "nice": false}, "axis": {"orient": "bottom", "domain": true, "domainColor": "#000", "domainWidth": 1.5, "ticks": false, "labels": false, "title": "CFSE Fluorescence", "titleFont": "Lato", "titleFontSize": 13, "titleFontWeight": "bold", "titleColor": "#000", "titleX": 250, "titleY": 12, "titleAlign": "center", "titleBaseline": "middle"}}}
}
]
},
{
"spacing": 13, "bounds": "flush",
"vconcat": [
{"width": 1, "height": 1, "data": {"values": [{}]}, "mark": {"type": "point", "opacity": 0}},
{
"width": 188, "height": 140,
"title": {"text": "(C)", "anchor": "start", "frame": "group", "dx": -22, "offset": 39, "font": "Lato", "fontSize": 15, "fontWeight": "bold"},
"resolve": {"axis": {"x": "independent", "y": "independent"}},
"layer": [
{"data": {"name": "C"},
"mark": {"type": "bar", "stroke": "#555", "strokeWidth": 0.6},
"encoding": {
"x": {"field": "g", "type": "nominal", "scale": {"domain": ["Control", "D-10nM", "3-BP-10µM", "D-10nM+3-BP-10µM"], "paddingInner": 0, "paddingOuter": 0}, "axis": {"title": null, "domain": true, "domainColor": "#000", "domainWidth": 2, "ticks": true, "tickBand": "extent", "tickSize": 5, "tickColor": "#000", "tickWidth": 1.5, "labelAngle": -45, "labelAlign": "right", "labelBaseline": "top", "labelFont": "Liberation Sans", "labelFontSize": 9, "labelColor": "#222", "labelPadding": 1, "labelOffset": 5, "labelExpr": "datum.value == 'D-10nM+3-BP-10µM' ? ['D-10nM+', '3-BP-10µM'] : datum.label"}},
"xOffset": {"field": "t", "type": "nominal", "scale": {"domain": ["4 hours", "24 hours"], "paddingInner": 0, "paddingOuter": 0.28}},
"y": {"field": "v", "type": "quantitative", "scale": {"domain": [0, 160], "nice": false}, "axis": {"values": [0,5,10,15,20,25,30,35,40,45,50,55,60,65,70,75,80,85,90,95,100,105,110,115,120,125,130,135,140,145,150,155,160], "labelExpr": "datum.value % 20 == 0 ? datum.label : ''", "title": "% Fluorescence", "titleFont": "Liberation Sans", "titleFontSize": 10.5, "titleFontWeight": "normal", "titleColor": "#111", "titlePadding": 3, "titleY": 84, "tickSize": {"condition": {"test": "datum.value % 20 == 0", "value": 5}, "value": 3}, "tickColor": "#000", "domainColor": "#000", "domainWidth": 2, "labelFont": "Liberation Sans", "labelFontSize": 10, "labelColor": "#111", "labelPadding": 1}},
"fill": {"field": "t", "type": "nominal", "scale": {"domain": ["4 hours", "24 hours"], "range": ["#c2c2c2", "#404040"]}, "legend": {"orient": "none", "legendX": 480, "legendY": 498, "title": null, "symbolSize": 0, "symbolStrokeWidth": 0, "labelFont": "Liberation Sans", "labelFontSize": 7.5, "labelColor": "#222", "strokeColor": "#888", "padding": 2, "rowPadding": 2, "labelOffset": 0}}}},
{"data": {"name": "C"},
"mark": {"type": "rule", "color": "#888", "strokeWidth": 1},
"encoding": {"x": {"field": "g", "type": "nominal", "axis": null}, "xOffset": {"field": "t", "type": "nominal"}, "y": {"field": "v", "type": "quantitative", "axis": null}, "y2": {"field": "hi"}}},
{"data": {"name": "C"},
"mark": {"type": "tick", "color": "#888", "thickness": 1, "size": 8},
"encoding": {"x": {"field": "g", "type": "nominal", "axis": null}, "xOffset": {"field": "t", "type": "nominal"}, "y": {"field": "hi", "type": "quantitative", "axis": null}}},
{"data": {"name": "C"}, "transform": [{"filter": "datum.g != 'D-10nM+3-BP-10µM'"}],
"mark": {"type": "line", "color": "#000", "strokeWidth": 1.5},
"encoding": {"x": {"field": "g", "type": "nominal", "axis": null}, "xOffset": {"field": "t", "type": "nominal"}, "y": {"datum": 113, "type": "quantitative", "axis": null}, "detail": {"field": "g"}}},
{"data": {"name": "C"}, "transform": [{"filter": "datum.g != 'D-10nM+3-BP-10µM'"}],
"mark": {"type": "point", "filled": true, "color": "#000", "size": 35, "opacity": 1},
"encoding": {"x": {"field": "g", "type": "nominal", "axis": null}, "xOffset": {"field": "t", "type": "nominal"}, "y": {"datum": 113, "type": "quantitative", "axis": null}}},
{"data": {"values": [{"g": "Control", "lab": "*"}, {"g": "D-10nM", "lab": "*"}, {"g": "3-BP-10µM", "lab": "*"}, {"g": "D-10nM+3-BP-10µM", "lab": "ns"}]},
"mark": {"type": "text", "font": "Liberation Sans", "fontSize": 14, "baseline": "middle", "color": "#000"},
"encoding": {"x": {"field": "g", "type": "nominal", "axis": null}, "y": {"datum": 120, "type": "quantitative", "axis": null}, "text": {"field": "lab"}}}
]
}
]
}
]
}
]
}
]
}
